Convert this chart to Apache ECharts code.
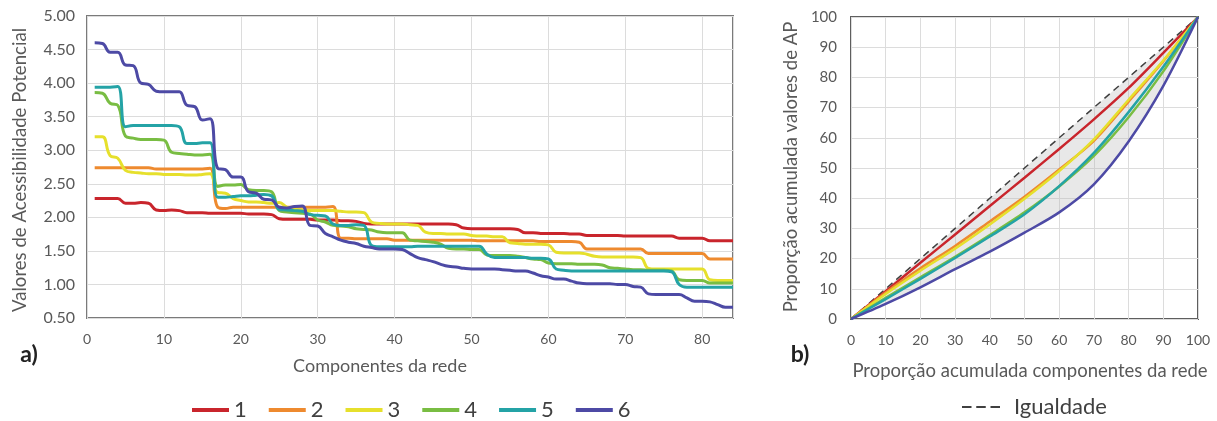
<!DOCTYPE html>
<html>
<head>
<meta charset="utf-8">
<script src="https://cdn.jsdelivr.net/npm/echarts@6/dist/echarts.min.js"></script>
<style>
html,body{margin:0;padding:0;background:#fff;}
#c{width:1217px;height:421px;}
</style>
</head>
<body>
<div id="c"></div>
<script>
// ---------- DATA ----------
const seriesNames = ['1','2','3','4','5','6'];
const colors = ['#c9252c','#ee8a2f','#e6e02c','#79bd43','#24a3a6','#4d4aa5'];

// Panel a) : Potential accessibility values per network component (components 1..84)
const s1 = [2.28,2.28,2.28,2.28,2.21,2.21,2.22,2.21,2.11,2.10,2.11,2.10,2.07,2.07,2.07,2.06,2.06,2.06,2.06,2.06,2.05,2.05,2.05,2.04,1.98,1.97,1.97,1.97,1.97,1.96,1.96,1.96,1.95,1.95,1.94,1.91,1.90,1.90,1.90,1.90,1.90,1.90,1.90,1.90,1.90,1.90,1.90,1.89,1.84,1.83,1.83,1.83,1.83,1.83,1.83,1.82,1.77,1.77,1.76,1.76,1.76,1.76,1.75,1.75,1.73,1.73,1.73,1.73,1.73,1.72,1.72,1.72,1.72,1.72,1.72,1.72,1.69,1.69,1.69,1.69,1.65,1.65,1.65,1.65];
const s2 = [2.74,2.74,2.74,2.74,2.74,2.74,2.74,2.74,2.72,2.72,2.72,2.72,2.72,2.72,2.72,2.73,2.15,2.13,2.15,2.15,2.15,2.15,2.15,2.15,2.15,2.15,2.15,2.15,2.15,2.15,2.15,2.16,1.69,1.69,1.68,1.68,1.68,1.68,1.68,1.66,1.66,1.66,1.66,1.66,1.66,1.66,1.66,1.66,1.66,1.66,1.65,1.65,1.65,1.65,1.65,1.65,1.65,1.65,1.64,1.64,1.64,1.64,1.64,1.63,1.53,1.53,1.53,1.53,1.53,1.53,1.53,1.53,1.46,1.46,1.46,1.46,1.46,1.46,1.46,1.46,1.38,1.38,1.38,1.38];
const s3 = [3.20,3.20,2.92,2.88,2.70,2.67,2.66,2.65,2.65,2.64,2.64,2.64,2.63,2.63,2.64,2.65,2.37,2.36,2.28,2.25,2.23,2.23,2.22,2.21,2.22,2.15,2.12,2.11,2.10,2.10,2.10,2.10,2.09,2.08,2.08,2.07,1.93,1.91,1.90,1.90,1.90,1.89,1.88,1.78,1.76,1.76,1.75,1.75,1.75,1.73,1.72,1.72,1.71,1.71,1.62,1.61,1.60,1.60,1.60,1.59,1.48,1.47,1.47,1.47,1.45,1.42,1.41,1.41,1.41,1.41,1.41,1.40,1.24,1.23,1.23,1.23,1.23,1.23,1.23,1.23,1.07,1.06,1.06,1.06];
const s4 = [3.86,3.85,3.70,3.67,3.21,3.18,3.16,3.16,3.16,3.15,2.97,2.95,2.94,2.93,2.93,2.94,2.46,2.48,2.48,2.49,2.41,2.40,2.40,2.38,2.10,2.08,2.07,2.06,2.05,1.96,1.93,1.88,1.87,1.86,1.83,1.82,1.81,1.78,1.77,1.77,1.77,1.66,1.65,1.64,1.63,1.60,1.54,1.53,1.53,1.52,1.52,1.44,1.43,1.43,1.43,1.42,1.40,1.38,1.37,1.32,1.31,1.31,1.31,1.30,1.30,1.30,1.29,1.25,1.24,1.23,1.22,1.22,1.21,1.21,1.21,1.20,1.07,1.06,1.06,1.06,1.02,1.02,1.02,1.02];
const s5 = [3.94,3.94,3.94,3.95,3.35,3.37,3.37,3.37,3.37,3.37,3.37,3.35,3.10,3.10,3.11,3.11,2.30,2.30,2.31,2.32,2.32,2.33,2.34,2.32,2.12,2.11,2.10,2.09,2.04,2.03,2.02,1.90,1.88,1.88,1.89,1.88,1.58,1.56,1.56,1.56,1.56,1.56,1.57,1.57,1.57,1.57,1.57,1.57,1.57,1.57,1.57,1.45,1.40,1.40,1.40,1.40,1.40,1.39,1.39,1.38,1.23,1.21,1.20,1.20,1.20,1.20,1.20,1.20,1.20,1.20,1.20,1.20,1.20,1.20,1.20,1.19,1.00,0.96,0.96,0.96,0.96,0.96,0.96,0.96];
const s6 = [4.60,4.59,4.46,4.46,4.27,4.26,4.00,3.98,3.88,3.87,3.87,3.87,3.67,3.65,3.45,3.47,2.73,2.71,2.60,2.60,2.38,2.36,2.27,2.26,2.15,2.14,2.16,2.17,1.88,1.87,1.76,1.71,1.66,1.63,1.61,1.57,1.55,1.53,1.53,1.53,1.52,1.46,1.40,1.37,1.34,1.30,1.27,1.26,1.24,1.23,1.23,1.23,1.23,1.22,1.21,1.20,1.20,1.17,1.13,1.11,1.08,1.08,1.05,1.02,1.01,1.01,1.01,1.01,1.00,1.00,0.97,0.96,0.86,0.85,0.85,0.85,0.85,0.80,0.75,0.75,0.74,0.70,0.66,0.66];

// Panel b) : Lorenz curves (cumulative % of components vs cumulative % of AP values)
const lorenzX = [0,10,20,30,40,50,60,70,80,90,100];
const l1 = [0,9.2,18.6,28.0,37.4,46.8,56.3,66.1,76.5,88.1,100];
const l2 = [0,8.8,16.8,24.2,32.3,40.5,49.5,59.0,72.0,85.4,100];
const l3 = [0,8.3,16.0,23.3,31.3,39.8,49.0,59.5,72.6,85.6,100];
const l4 = [0,7.0,13.8,20.6,27.8,35.3,43.9,54.0,66.8,82.0,100];
const l5 = [0,6.6,13.3,20.2,27.3,34.7,44.0,55.0,68.5,83.5,100];
const l6 = [0,5.0,10.5,16.5,22.3,28.6,35.3,44.6,58.8,77.2,100];
const equality = [0,10,20,30,40,50,60,70,80,90,100];

const xTicksA = [0,10,20,30,40,50,60,70,80];
// ---------- BUILD ----------
const seriesA = [s1,s2,s3,s4,s5,s6];
const seriesB = [l1,l2,l3,l4,l5,l6];
const FONT = 'Lato';
const LBL = '#595959';

const series = [];
seriesA.forEach((arr, i) => {
  series.push({
    name: seriesNames[i], type: 'line', xAxisIndex: 0, yAxisIndex: 0,
    data: arr.map((v, k) => [k + 1, v]),
    showSymbol: false, symbol: 'none', smooth: 0.45,
    lineStyle: {color: colors[i], width: 3}, itemStyle: {color: colors[i]},
    z: 3
  });
});
// shaded area between the equality line and the most unequal Lorenz curve
series.push({
  name: 'shade', type: 'custom', xAxisIndex: 1, yAxisIndex: 1, silent: true, z: 1,
  data: [[0, 0]],
  renderItem: function (params, api) {
    const pts = [];
    lorenzX.forEach((x, k) => pts.push(api.coord([x, equality[k]])));
    for (let k = lorenzX.length - 1; k >= 0; k--) pts.push(api.coord([lorenzX[k], l6[k]]));
    return {type: 'polygon', shape: {points: pts}, style: {fill: 'rgba(185,185,185,0.33)'}};
  }
});
series.push({
  name: 'Igualdade', type: 'line', xAxisIndex: 1, yAxisIndex: 1,
  data: lorenzX.map((x, k) => [x, equality[k]]), symbol: 'none', showSymbol: false,
  lineStyle: {color: '#404040', width: 1.5, type: [7, 5]}, itemStyle: {color: '#404040'}, z: 2
});
seriesB.forEach((arr, i) => {
  series.push({
    name: 'L' + seriesNames[i], type: 'line', xAxisIndex: 1, yAxisIndex: 1,
    data: lorenzX.map((x, k) => [x, arr[k]]),
    showSymbol: false, symbol: 'none', smooth: 0.3,
    lineStyle: {color: colors[i], width: 2.5}, z: 3
  });
});

const splitLine = {show: true, lineStyle: {color: '#dcdcdc', width: 1}};

const option = {
  animation: false,
  textStyle: {fontFamily: FONT},
  grid: [
    {left: 87, top: 16, width: 646, height: 302, show: true, borderColor: '#7a7a7a', borderWidth: 2, backgroundColor: 'transparent'},
    {left: 851, top: 17, width: 347, height: 302, show: true, borderColor: '#5e5e5e', borderWidth: 2, backgroundColor: 'transparent'}
  ],
  xAxis: [
    {type: 'value', gridIndex: 0, min: 0, max: 84, interval: 10,
     axisLine: {show: false}, axisTick: {show: false}, splitLine: splitLine,
     axisLabel: {color: LBL, fontSize: 14, margin: 14, showMaxLabel: false, fontFamily: FONT,
       formatter: v => xTicksA.includes(v) ? String(v) : ''}},
    {type: 'value', gridIndex: 1, min: 0, max: 100, interval: 10,
     axisLine: {show: false}, axisTick: {show: false}, splitLine: splitLine,
     axisLabel: {color: LBL, fontSize: 14, margin: 14, fontFamily: FONT}}
  ],
  yAxis: [
    {type: 'value', gridIndex: 0, min: 0.5, max: 5, interval: 0.5,
     axisLine: {show: false}, axisTick: {show: false}, splitLine: splitLine,
     axisLabel: {color: LBL, fontSize: 16, margin: 12, fontFamily: FONT, formatter: v => v.toFixed(2)}},
    {type: 'value', gridIndex: 1, min: 0, max: 100, interval: 10,
     axisLine: {show: false}, axisTick: {show: false}, splitLine: splitLine,
     axisLabel: {color: LBL, fontSize: 15, margin: 14, fontFamily: FONT}}
  ],
  legend: [
    {data: seriesNames, left: 187, top: 394, icon: 'rect', itemWidth: 37, itemHeight: 4, itemGap: 22,
     textStyle: {fontSize: 22, color: '#404040', fontFamily: FONT}},
    {data: [{name: 'Igualdade', icon: 'path://M0,0h10v2h-10z M15,0h10v2h-10z M30,0h10v2h-10z'}],
     left: 957, top: 391, itemWidth: 38, itemHeight: 2,
     textStyle: {fontSize: 22, color: '#404040', fontFamily: FONT, padding: [0, 0, 0, 9]}}
  ],
  graphic: [
    {type: 'text', x: 20, y: 170, rotation: Math.PI / 2,
     style: {text: 'Valores de Acessibilidade Potencial', fontSize: 18.6, fontFamily: FONT, fill: LBL, textAlign: 'center', textVerticalAlign: 'middle'}},
    {type: 'text', x: 380, y: 366,
     style: {text: 'Componentes da rede', fontSize: 18, fontFamily: FONT, fill: LBL, textAlign: 'center', textVerticalAlign: 'middle'}},
    {type: 'text', x: 791, y: 167, rotation: Math.PI / 2,
     style: {text: 'Proporção acumulada valores de AP', fontSize: 18.5, fontFamily: FONT, fill: LBL, textAlign: 'center', textVerticalAlign: 'middle'}},
    {type: 'text', x: 1030, y: 371,
     style: {text: 'Proporção acumulada componentes da rede', fontSize: 18.5, fontFamily: FONT, fill: LBL, textAlign: 'center', textVerticalAlign: 'middle'}},
    {type: 'text', x: 29, y: 355,
     style: {text: 'a)', fontSize: 23, fontWeight: 'bold', fontFamily: FONT, fill: '#222', textAlign: 'center', textVerticalAlign: 'middle'}},
    {type: 'text', x: 800, y: 355,
     style: {text: 'b)', fontSize: 23, fontWeight: 'bold', fontFamily: FONT, fill: '#222', textAlign: 'center', textVerticalAlign: 'middle'}}
  ],
  series: series
};
const chart = echarts.init(document.getElementById('c'), null, {renderer: 'canvas'});
chart.setOption(option);
</script>
</body>
</html>
